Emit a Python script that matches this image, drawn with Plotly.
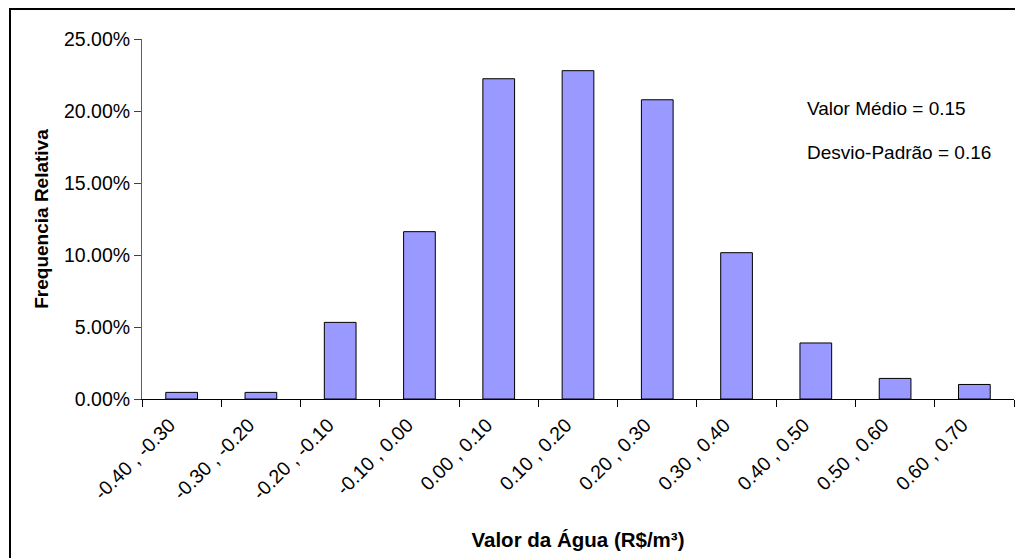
import plotly.graph_objects as go

# Class intervals of water value (R$/m³) and relative frequency of each class
classes = [
    "-0.40 , -0.30", "-0.30 , -0.20", "-0.20 , -0.10", "-0.10 , 0.00",
    "0.00 , 0.10", "0.10 , 0.20", "0.20 , 0.30", "0.30 , 0.40",
    "0.40 , 0.50", "0.50 , 0.60", "0.60 , 0.70",
]
rel_freq = [0.0046, 0.0046, 0.0532, 0.1162, 0.2224, 0.2280,
            0.2078, 0.1016, 0.0389, 0.0143, 0.0101]

y_ticks = [0.0, 0.05, 0.10, 0.15, 0.20, 0.25]
mean_value = 0.15
std_value = 0.16

W, H = 1015, 558
ML, MR, MT, MB = 142, 1, 39, 159
PW, PH = W - ML - MR, H - MT - MB

def px_x(p):
    return (p - ML) / PW

def px_y(p):
    return (H - MB - p) / PH

FONT = "Liberation Sans, Arial, sans-serif"

fig = go.Figure(
    go.Bar(
        x=classes,
        y=rel_freq,
        width=0.4,
        marker=dict(color="#9999FF", line=dict(color="#000000", width=1)),
        hoverinfo="x+y",
    )
)

fig.update_layout(
    width=W,
    height=H,
    margin=dict(l=ML, r=MR, t=MT, b=MB, pad=0),
    paper_bgcolor="white",
    plot_bgcolor="white",
    showlegend=False,
    font=dict(family=FONT, size=19.5, color="#000000"),
    bargap=0.6,
)

fig.update_xaxes(
    type="category",
    tickangle=-45,
    tickson="boundaries",
    ticks="outside",
    ticklen=7,
    tickcolor="#000000",
    showline=True,
    linecolor="#000000",
    linewidth=1,
    showgrid=False,
    tickfont=dict(family=FONT, size=19.5),
    ticklabelshift=-12,
    ticklabelstandoff=6,
    title=dict(text="<b>Valor da Água (R$/m³)</b>", font=dict(family=FONT, size=20.5), standoff=29),
)

fig.update_yaxes(
    range=[0, 0.25],
    tickvals=y_ticks,
    tickformat=".2%",
    ticks="outside",
    ticklen=7,
    tickcolor="#404040",
    showline=True,
    linecolor="#606060",
    linewidth=1,
    showgrid=False,
    zeroline=False,
    tickfont=dict(family=FONT, size=19.5),
    title=dict(text="<b>Frequencia Relativa</b>", font=dict(family=FONT, size=19), standoff=10),
)

fig.add_annotation(
    xref="paper", yref="paper", x=px_x(805), y=px_y(108),
    xanchor="left", yanchor="middle", showarrow=False,
    text=f"Valor Médio = {mean_value:.2f}", font=dict(family=FONT, size=19),
)
fig.add_annotation(
    xref="paper", yref="paper", x=px_x(805), y=px_y(152),
    xanchor="left", yanchor="middle", showarrow=False,
    text=f"Desvio-Padrão = {std_value:.2f}", font=dict(family=FONT, size=19),
)

# Chart-area frame
fig.add_shape(
    type="rect", xref="paper", yref="paper",
    x0=px_x(10), x1=px_x(W + 20), y0=px_y(H + 20), y1=px_y(9),
    line=dict(color="#000000", width=2), fillcolor="rgba(0,0,0,0)", layer="below",
)

fig.write_html("out.html")
